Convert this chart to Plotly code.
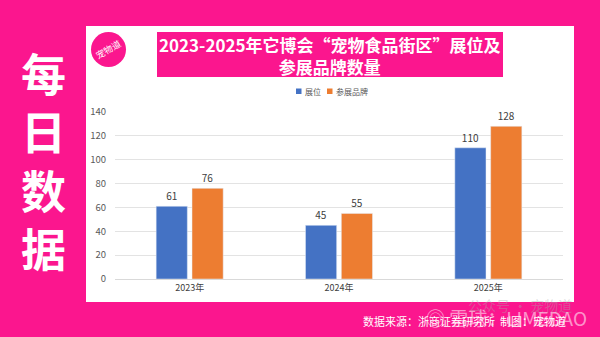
import plotly.graph_objects as go

# Data
years = ["2023年", "2024年", "2025年"]
booths = [61, 45, 110]
brands = [76, 55, 128]
series_names = ["展位", "参展品牌"]
series_colors = ["#4472C4", "#ED7D31"]
title_lines = ["2023-2025年它博会“宠物食品街区”展位及", "参展品牌数量"]
side_chars = ["每", "日", "数", "据"]
source_text = "数据来源：浙商证券研究所  制图：宠物道"

W, H = 600, 337
PINK = "#FB168E"
FONT = "Noto Sans CJK SC"

# plot area in pixels
L, R, T, B = 115, 563, 112, 279


def px(x):
    return (x - L) / (R - L)


def py(y):
    return (B - y) / (B - T)


fig = go.Figure()
for name, vals, color in zip(series_names, [booths, brands], series_colors):
    fig.add_trace(go.Bar(
        x=years, y=vals, name=name, marker_color=color,
        text=vals, textposition="outside", cliponaxis=False, showlegend=False,
        textfont=dict(size=10, color="#404040", family=FONT),
    ))

shapes = [
    # white card behind the chart
    dict(type="rect", xref="paper", yref="paper", layer="below",
         x0=px(86), x1=px(574), y0=py(302), y1=py(26),
         fillcolor="white", line=dict(width=0)),
    # title banner
    dict(type="rect", xref="paper", yref="paper", layer="below",
         x0=px(157), x1=px(503), y0=py(77), y1=py(32),
         fillcolor=PINK, line=dict(width=0)),
    # round logo
    dict(type="circle", xref="paper", yref="paper", layer="below",
         x0=px(91), x1=px(126), y0=py(67), y1=py(32),
         fillcolor=PINK, line=dict(width=0)),
]

annotations = [
    dict(text="<br>".join("<b>" + t + "</b>" for t in title_lines),
         x=px(330), y=py(55.5),
         font=dict(size=17, color="white", family=FONT)),
    dict(text="宠物道", x=px(108.5), y=py(50), textangle=-30,
         font=dict(size=9, color="white", family=FONT)),
    dict(text=source_text, x=px(464), y=py(321),
         font=dict(size=11, color="white", family=FONT)),
    dict(text="公众号 · 宠物道", x=px(520), y=py(305),
         font=dict(size=14, color="rgba(170,170,170,0.4)", family=FONT)),
    dict(text="◎ 雪球：LIMEDAO", x=px(506), y=py(317),
         font=dict(size=19, color="rgba(255,255,255,0.55)", family=FONT)),
]
for i, ch in enumerate(side_chars):
    annotations.append(dict(
        text="<b>" + ch + "</b>", x=px(43), y=py(72 + i * 58.5),
        font=dict(size=45, color="white", family=FONT)))

# compact legend: small square swatch followed by the series name
legend_x = [296, 327]
for name, color, lx in zip(series_names, series_colors, legend_x):
    shapes.append(dict(type="rect", xref="paper", yref="paper",
                       x0=px(lx), x1=px(lx + 5.5), y0=py(94), y1=py(88.5),
                       fillcolor=color, line=dict(width=0)))
    annotations.append(dict(text=name, x=px(lx + 7), y=py(91.5),
                            xanchor="left",
                            font=dict(size=8, color="#595959", family=FONT)))

for a in annotations:
    a.setdefault("xanchor", "center")
    a.update(xref="paper", yref="paper", showarrow=False, yanchor="middle")

fig.update_layout(
    width=W, height=H,
    margin=dict(l=L, r=W - R, t=T, b=H - B),
    paper_bgcolor=PINK, plot_bgcolor="rgba(0,0,0,0)",
    barmode="group", bargap=0.52, bargroupgap=0.13,
    font=dict(family=FONT, color="#595959", size=9),
    shapes=shapes, annotations=annotations,
    showlegend=False,
    xaxis=dict(showgrid=False, showline=True, linecolor="#D9D9D9",
               tickfont=dict(size=9, color="#404040"), ticks=""),
    yaxis=dict(range=[0, 140], dtick=20, showgrid=True, gridcolor="#E3E3E3",
               zeroline=False, ticks="", ticklabelstandoff=8,
               tickfont=dict(size=9.5, color="#595959")),
)

fig.write_html("out.html")
